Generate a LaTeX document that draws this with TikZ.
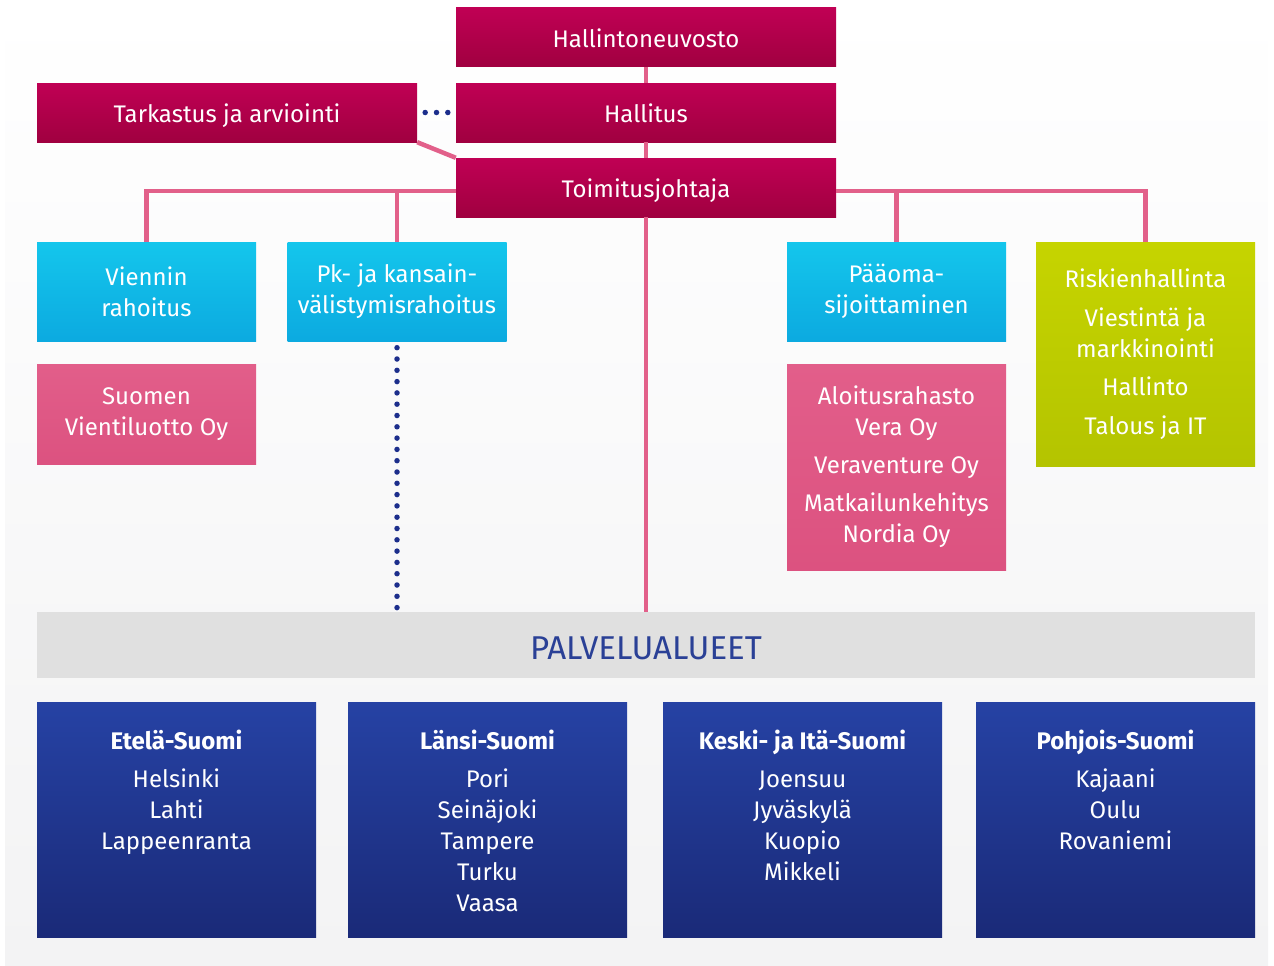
\documentclass[tikz,border=0pt]{standalone}
\usepackage{fontspec}
\setmainfont{Fira Sans}
\usepackage{tikz}
\usetikzlibrary{positioning}

\definecolor{magtop}{RGB}{192,0,84}
\definecolor{magbot}{RGB}{160,0,64}
\definecolor{cyantop}{RGB}{20,198,236}
\definecolor{cyanbot}{RGB}{12,170,224}
\definecolor{pinktop}{RGB}{226,94,138}
\definecolor{pinkbot}{RGB}{220,82,128}
\definecolor{limetop}{RGB}{198,212,0}
\definecolor{limebot}{RGB}{180,196,0}
\definecolor{navytop}{RGB}{38,66,164}
\definecolor{navybot}{RGB}{26,42,120}
\definecolor{bandgray}{RGB}{224,224,224}
\definecolor{bandtext}{RGB}{42,64,150}
\definecolor{linkpink}{RGB}{226,96,138}
\definecolor{dotnavy}{RGB}{28,46,140}
\definecolor{bgbot}{RGB}{243,243,244}

\begin{document}
\begin{tikzpicture}[
    x=1pt, y=-1pt,
    every node/.style={
        font=\fontsize{24}{31}\selectfont,
        text=white,
        inner sep=0pt
    },
    board/.style={
        minimum width=380pt, minimum height=59pt,
        text height=21.5pt, text depth=2pt,
        text centered,
        rectangle,
        top color=magtop, bottom color=magbot
    },
    unit/.style={
        minimum width=219pt, minimum height=99pt,
        align=center,
        rectangle,
        top color=cyantop, bottom color=cyanbot
    },
    company/.style={
        minimum width=219pt,
        align=center,
        rectangle,
        top color=pinktop, bottom color=pinkbot
    },
    staff/.style={
        minimum width=219pt, minimum height=224pt,
        align=center,
        rectangle,
        top color=limetop, bottom color=limebot
    },
    band/.style={
        minimum width=1218pt, minimum height=66pt,
        text height=29pt, text depth=0pt,
        rectangle,
        fill=bandgray,
        text=bandtext,
        font=\fontsize{33}{40}\selectfont
    },
    region/.style={
        minimum width=279pt, minimum height=235pt,
        rectangle,
        top color=navytop, bottom color=navybot
    },
    regiontext/.style={
        anchor=north, yshift=-28pt,
        align=center
    },
    link/.style={
        draw=linkpink, line width=4.5pt
    },
    dotlink/.style={
        draw=dotnavy, line width=5.5pt,
        line cap=round,
        dash pattern=on 0pt off 11.3pt
    }
]
\useasboundingbox (0,0) rectangle (1274,966);
\fill[top color=white, bottom color=bgbot] (5,0) rectangle (1268,966);

% hallinto
\node (hn)   [board] at (646,37.5)  {Hallintoneuvosto};
\node (hal)  [board] at (646,112.5) {Hallitus};
\node (tj)   [board] at (646,187.5) {Toimitusjohtaja};
\node (tark) [board] at (227,112.5) {Tarkastus ja arviointi};

% yksikot
\node (vr)   [unit] at (146.5,291.5) {Viennin\\ rahoitus};
\node (pk)   [unit] at (397,291.5)   {Pk- ja kansain-\\ välistymisrahoitus};
\node (pso)  [unit] at (896.5,291.5) {Pääoma-\\ sijoittaminen};
\node (risk) [staff] at (1145.5,354) {Riskienhallinta\\[8pt] Viestintä ja\\ markkinointi\\[7pt] Hallinto\\[8pt] Talous ja IT};

% yhtiot
\node (svo)  [company, minimum height=100pt] at (146.5,414) {Suomen\\ Vientiluotto Oy};
\node (alo)  [company, minimum height=206pt] at (896.5,467) {Aloitusrahasto\\ Vera Oy\\[7pt] Veraventure Oy\\[7pt] Matkailunkehitys\\ Nordia Oy};

% palvelualueet
\node (palv) [band] at (646,645) {PALVELUALUEET};
\node (es) [region, label={[regiontext]north:{\textbf{Etelä-Suomi}\\[7pt] Helsinki\\ Lahti\\ Lappeenranta}}] at (176.5,819.5) {};
\node (ls) [region, label={[regiontext]north:{\textbf{Länsi-Suomi}\\[7pt] Pori\\ Seinäjoki\\ Tampere\\ Turku\\ Vaasa}}] at (487.5,819.5) {};
\node (ks) [region, label={[regiontext]north:{\textbf{Keski- ja Itä-Suomi}\\[7pt] Joensuu\\ Jyväskylä\\ Kuopio\\ Mikkeli}}] at (802.5,819.5) {};
\node (ps) [region, label={[regiontext]north:{\textbf{Pohjois-Suomi}\\[7pt] Kajaani\\ Oulu\\ Rovaniemi}}] at (1115.5,819.5) {};

\draw[link] (hn.south) -- (hal.north);
\draw[link] (hal.south) -- (tj.north);
\draw[link] (tj.south) -- (palv.north);
\draw[link] (tark.south east) -- (tj.north west);

\draw[link] ([yshift=-3.5pt]tj.west) -| (vr.north);
\draw[link] ([yshift=-3.5pt]tj.west) -| (pk.north);
\draw[link] ([yshift=-3.5pt]tj.east) -| (pso.north);
\draw[link] ([yshift=-3.5pt]tj.east) -| (risk.north);

\draw[dotlink, shorten <=8pt] (tark.east) -- (hal.west);
\draw[dotlink, shorten <=6.5pt] (pk.south) -- (pk.south |- palv.north);
\end{tikzpicture}
\end{document}
